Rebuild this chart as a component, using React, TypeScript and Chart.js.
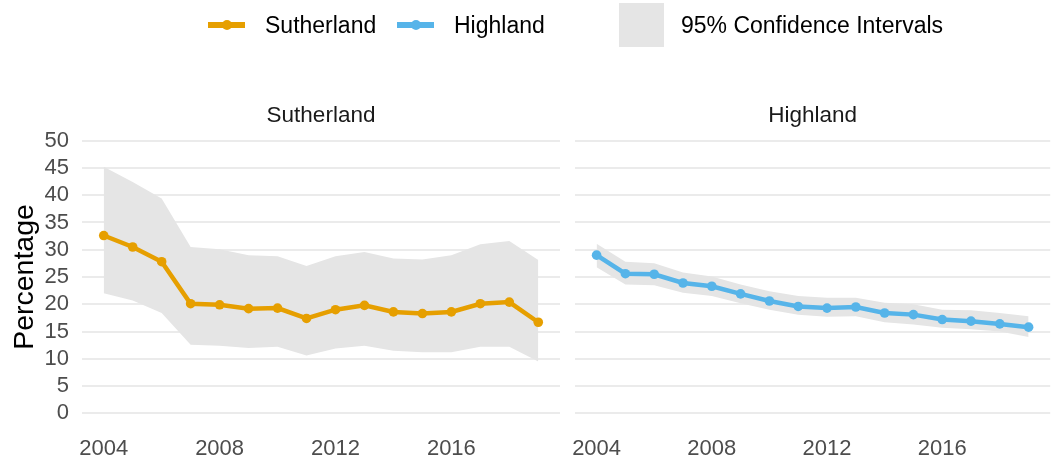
import React, { useEffect, useRef } from "react";
import { Chart, registerables } from "chart.js";

Chart.register(...registerables);

const years = [2004, 2005, 2006, 2007, 2008, 2009, 2010, 2011, 2012, 2013, 2014, 2015, 2016, 2017, 2018, 2019];

const sutherlandValues = [32.6, 30.5, 27.8, 20.1, 19.9, 19.2, 19.3, 17.4, 19.0, 19.8, 18.6, 18.3, 18.6, 20.1, 20.4, 16.7];
const sutherlandUpper = [45.2, 42.4, 39.4, 30.5, 30.1, 29.0, 28.8, 27.0, 28.8, 29.6, 28.4, 28.2, 29.0, 31.0, 31.6, 28.1];
const sutherlandLower = [22.0, 20.7, 18.4, 12.6, 12.4, 12.0, 12.2, 10.6, 11.9, 12.4, 11.5, 11.2, 11.2, 12.2, 12.2, 9.5];

const highlandValues = [29.0, 25.6, 25.5, 23.9, 23.3, 21.9, 20.6, 19.6, 19.3, 19.5, 18.4, 18.1, 17.2, 16.9, 16.4, 15.8];
const highlandUpper = [31.1, 27.8, 27.5, 25.8, 25.1, 23.6, 22.4, 21.5, 21.2, 21.2, 20.3, 20.0, 19.0, 18.9, 18.4, 17.8];
const highlandLower = [26.8, 23.6, 23.5, 22.1, 21.5, 20.2, 19.0, 18.1, 17.7, 17.8, 16.7, 16.3, 15.7, 15.4, 15.0, 14.0];

const xTicks = [2004, 2008, 2012, 2016];
const yTicks = [0, 5, 10, 15, 20, 25, 30, 35, 40, 45, 50];

const seriesNames = ["Sutherland", "Highland"];
const ciLabel = "95% Confidence Intervals";
const yTitle = "Percentage";

const ORANGE = "#E69F00";
const BLUE = "#56B4E9";
const BAND = "#E5E5E5";
const GRID = "#EBEBEB";
const FONT = "'Liberation Sans', Arial, Helvetica, sans-serif";

function pts(vals: number[]) {
  return years.map((y, i) => ({ x: y, y: vals[i] }));
}

function makeConfig(
  title: string,
  values: number[],
  upper: number[],
  lower: number[],
  color: string,
  showY: boolean
): any {
  return {
    type: "line",
    data: {
      datasets: [
        {
          label: title,
          data: pts(values),
          borderColor: color,
          backgroundColor: color,
          borderWidth: 4.5,
          pointRadius: 4.8,
          pointBackgroundColor: color,
          pointBorderWidth: 0,
          fill: false,
          order: 0,
        },
        {
          label: "upper",
          data: pts(upper),
          borderWidth: 0,
          pointRadius: 0,
          backgroundColor: BAND,
          fill: "+1",
          order: 1,
        },
        {
          label: "lower",
          data: pts(lower),
          borderWidth: 0,
          pointRadius: 0,
          fill: false,
          order: 2,
        },
      ],
    },
    options: {
      animation: false,
      responsive: false,
      maintainAspectRatio: false,
      layout: {
        padding: { top: 105.6, bottom: 0, left: 0, right: showY ? 5 : 2 },
      },
      plugins: {
        legend: { display: false },
        tooltip: { enabled: false },
        filler: { drawTime: "beforeDatasetsDraw" },
        title: {
          display: true,
          text: title,
          fullSize: false,
          color: "#1A1A1A",
          font: { family: FONT, size: 22.5, weight: "normal", lineHeight: 0.95 },
          padding: { top: 0, bottom: 0 },
        },
      },
      scales: {
        x: {
          type: "linear",
          min: 2003.25,
          max: 2019.75,
          grid: { display: false },
          border: { display: false },
          afterBuildTicks: (axis: any) => {
            axis.ticks = xTicks.map((v) => ({ value: v }));
          },
          afterFit: (axis: any) => {
            axis.height = 37;
          },
          ticks: {
            autoSkip: false,
            maxRotation: 0,
            padding: 1,
            color: "#4D4D4D",
            font: { family: FONT, size: 22 },
            callback: (v: any) => String(v),
          },
        },
        y: {
          type: "linear",
          min: -2.5,
          max: 52.5,
          grid: { color: GRID, lineWidth: 2, drawTicks: false },
          border: { display: false },
          afterBuildTicks: (axis: any) => {
            axis.ticks = yTicks.map((v) => ({ value: v }));
          },
          afterFit: (axis: any) => {
            axis.width = showY ? 82 : 10;
          },
          title: {
            display: showY,
            text: yTitle,
            color: "#000000",
            font: { family: FONT, size: 28.5, lineHeight: 1.2 },
            padding: { top: 8, bottom: 0 },
          },
          ticks: {
            display: showY,
            padding: 13,
            color: "#4D4D4D",
            font: { family: FONT, size: 22 },
            callback: (v: any) => String(v),
          },
        },
      },
    },
  };
}

function Panel(props: {
  left: number;
  width: number;
  title: string;
  values: number[];
  upper: number[];
  lower: number[];
  color: string;
  showY: boolean;
}) {
  const ref = useRef<HTMLCanvasElement | null>(null);
  useEffect(() => {
    if (!ref.current) return;
    const chart = new Chart(
      ref.current,
      makeConfig(props.title, props.values, props.upper, props.lower, props.color, props.showY)
    );
    return () => chart.destroy();
  }, []);
  return (
    <canvas
      ref={ref}
      width={props.width}
      height={464}
      style={{ position: "absolute", left: props.left, top: 0, width: props.width, height: 464, display: "block" }}
    />
  );
}

function LineKey(props: { left: number; color: string }) {
  return (
    <>
      <div
        style={{
          position: "absolute",
          left: props.left,
          top: 22,
          width: 37,
          height: 6,
          background: props.color,
        }}
      />
      <div
        style={{
          position: "absolute",
          left: props.left + 13.5,
          top: 20,
          width: 10,
          height: 10,
          borderRadius: "50%",
          background: props.color,
        }}
      />
    </>
  );
}

const legendText: React.CSSProperties = {
  position: "absolute",
  top: 11,
  height: 28,
  lineHeight: "28px",
  fontFamily: FONT,
  fontSize: 23,
  color: "#000000",
  whiteSpace: "nowrap",
};

export default function App() {
  return (
    <div
      style={{
        position: "fixed",
        left: 0,
        top: 0,
        width: 1055,
        height: 464,
        background: "#FFFFFF",
        overflow: "hidden",
      }}
    >
      <Panel
        left={0}
        width={565}
        title={seriesNames[0]}
        values={sutherlandValues}
        upper={sutherlandUpper}
        lower={sutherlandLower}
        color={ORANGE}
        showY={true}
      />
      <Panel
        left={565}
        width={490}
        title={seriesNames[1]}
        values={highlandValues}
        upper={highlandUpper}
        lower={highlandLower}
        color={BLUE}
        showY={false}
      />
      <LineKey left={208} color={ORANGE} />
      <div style={{ ...legendText, left: 265 }}>{seriesNames[0]}</div>
      <LineKey left={397} color={BLUE} />
      <div style={{ ...legendText, left: 454 }}>{seriesNames[1]}</div>
      <div
        style={{
          position: "absolute",
          left: 619,
          top: 3,
          width: 45,
          height: 44,
          background: BAND,
        }}
      />
      <div style={{ ...legendText, left: 681 }}>{ciLabel}</div>
    </div>
  );
}
